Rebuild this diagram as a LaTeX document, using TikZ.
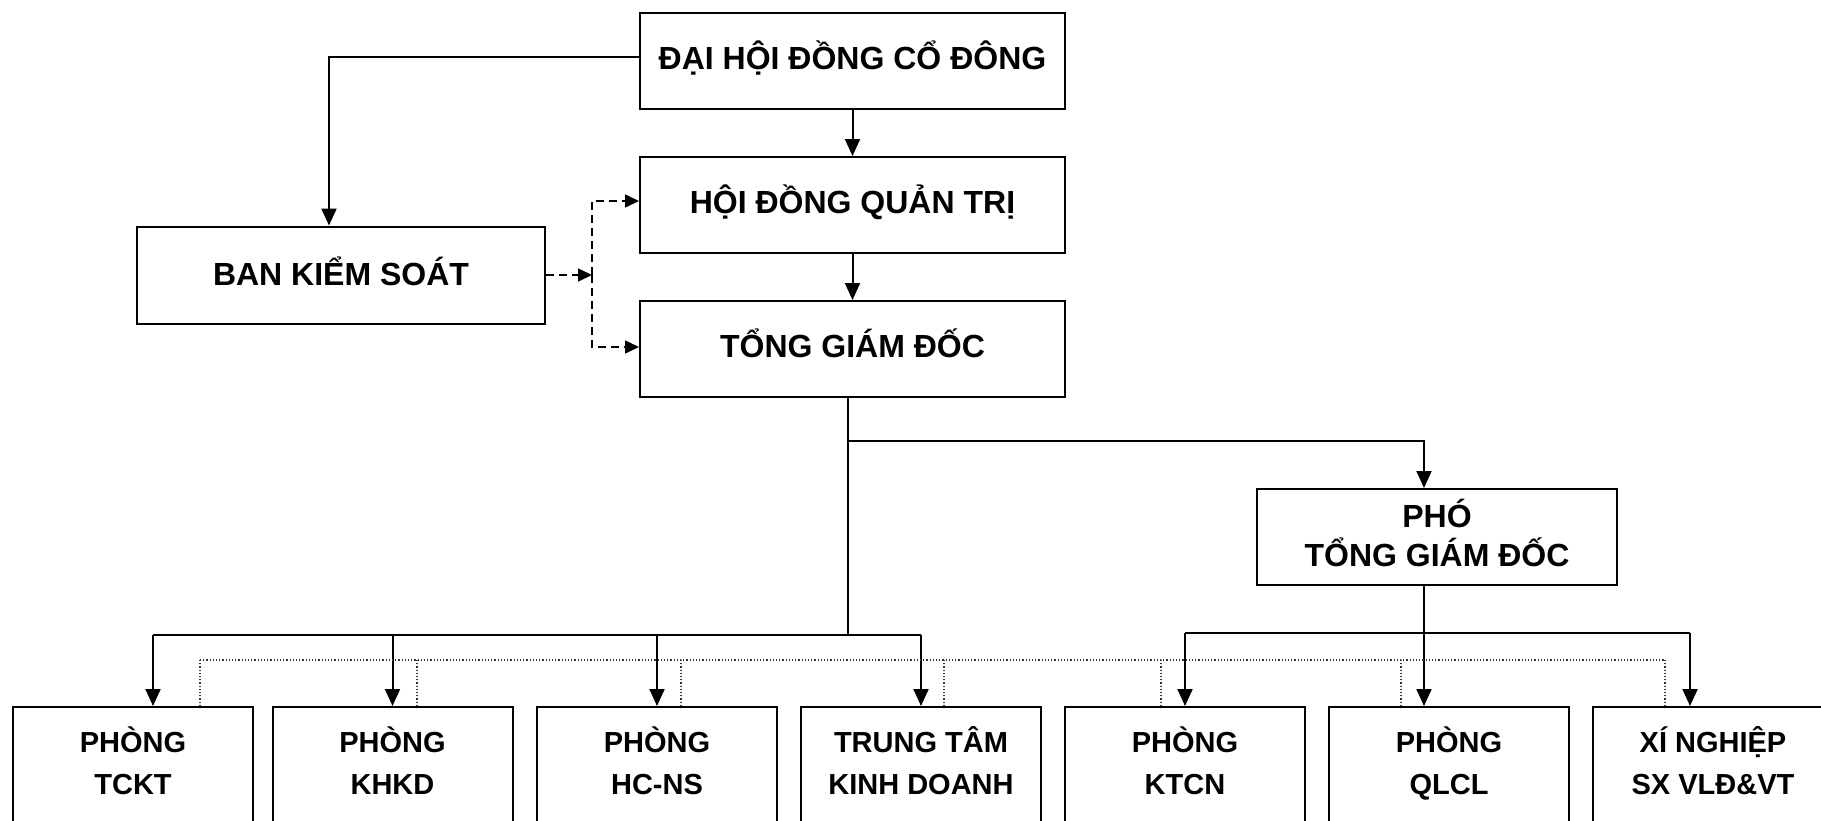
\documentclass[tikz,border=0pt]{standalone}
\usepackage{fontspec}
\setmainfont{Liberation Sans}
\usetikzlibrary{arrows.meta}
\newcommand\topstrut{\rule[-14pt]{0pt}{44pt}}
\newcommand\bksstrut{\rule[-9pt]{0pt}{39pt}}
\newcommand\ptstrutA{\rule[-5.5pt]{0pt}{38.5pt}}
\newcommand\ptstrutB{\rule[-13.7pt]{0pt}{46.7pt}}
\newcommand\unstrut{\rule[-13.5pt]{0pt}{41.5pt}}
\tikzset{
  box/.style={draw, line width=2pt, inner sep=0pt, align=center,
    font=\bfseries\fontsize{32}{38.7}\selectfont},
  topbox/.style={box, minimum width=425pt, minimum height=96pt},
  unitbox/.style={draw, line width=2pt, inner sep=0pt, align=center,
    minimum width=240pt, minimum height=118pt,
    font=\bfseries\fontsize{29}{41.6}\selectfont},
  conn/.style={line width=2pt},
  arr/.style={conn, -{Triangle[length=17pt,width=15pt]}},
  dasharr/.style={line width=1.6pt, dash pattern=on 8pt off 5pt, -{Triangle[length=14pt,width=13pt]}},
  dotln/.style={line width=1.1pt, dash pattern=on 1.2pt off 2pt, black!80}
}
\begin{document}
\begin{tikzpicture}[x=1pt,y=-1pt]
\useasboundingbox (0,0) rectangle (1821,820);
\clip (0,0) rectangle (1821,820);
\fill[white] (0,0) rectangle (1821,820);
% top boxes
\node[topbox] (dhdcd) at (852.5,61) {\topstrut ĐẠI HỘI ĐỒNG CỔ ĐÔNG};
\node[topbox] (hdqt) at (852.5,205) {\topstrut HỘI ĐỒNG QUẢN TRỊ};
\node[topbox] (tgd) at (852.5,349) {\topstrut TỔNG GIÁM ĐỐC};
\node[box, minimum width=408pt, minimum height=97pt] (bks) at (341,275) {\bksstrut BAN KIỂM SOÁT};
\node[box, minimum width=360pt, minimum height=96pt] (ptgd) at (1437,537) {\ptstrutA PHÓ\\\ptstrutB TỔNG GIÁM ĐỐC};
% bottom units
\node[unitbox] (b1) at (133,766) {\unstrut PHÒNG\\\unstrut TCKT};
\node[unitbox] (b2) at (392.5,766) {\unstrut PHÒNG\\\unstrut KHKD};
\node[unitbox] (b3) at (657,766) {\unstrut PHÒNG\\\unstrut HC-NS};
\node[unitbox] (b4) at (921,766) {\unstrut TRUNG TÂM\\\unstrut KINH DOANH};
\node[unitbox] (b5) at (1185,766) {\unstrut PHÒNG\\\unstrut KTCN};
\node[unitbox] (b6) at (1449,766) {\unstrut PHÒNG\\\unstrut QLCL};
\node[unitbox] (b7) at (1713,766) {\unstrut XÍ NGHIỆP\\\unstrut SX VLĐ\&VT};
% helper coordinates
\coordinate (barL) at (0,635);
\coordinate (barR) at (0,633);
\coordinate (midbar) at (0,441);
\coordinate (dotbar) at (0,660);
\coordinate (jn) at (592,275);
% top connectors
\draw[arr] ([yshift=4pt]dhdcd.west) -| ([xshift=-12pt]bks.north);
\draw[arr] (dhdcd.south) -- (hdqt.north);
\draw[arr] (hdqt.south) -- (tgd.north);
% supervisory dashed
\draw[dasharr] (bks.east |- jn) -- (jn);
\draw[dasharr] (jn) |- ([yshift=4pt]hdqt.west);
\draw[dasharr] (jn) |- ([yshift=2pt]tgd.west);
% general director to units
\draw[conn] ([xshift=-4.5pt,yshift=2pt]tgd.south) -- ([xshift=-4.5pt]tgd.south |- barL);
\draw[arr] ([xshift=-4.5pt]tgd.south |- midbar) -| ([xshift=-13pt]ptgd.north);
\draw[conn] ([xshift=20pt]b1.north |- barL) -- (b4.north |- barL);
\draw[arr] ([xshift=20pt]b1.north |- barL) -- ([xshift=20pt]b1.north);
\draw[arr] (b2.north |- barL) -- (b2.north);
\draw[arr] (b3.north |- barL) -- (b3.north);
\draw[arr] (b4.north |- barL) -- (b4.north);
% deputy to units
\draw[arr] ([xshift=-13pt]ptgd.south) -- ([xshift=-25pt]b6.north);
\draw[conn] (b5.north |- barR) -- ([xshift=-23pt]b7.north |- barR);
\draw[arr] (b5.north |- barR) -- (b5.north);
\draw[arr] ([xshift=-23pt]b7.north |- barR) -- ([xshift=-23pt]b7.north);
% dotted coordination lines
\draw[dotln] ([xshift=67pt]b1.north |- dotbar) -- ([xshift=-48pt]b7.north |- dotbar);
\draw[dotln] ([xshift=67pt]b1.north |- dotbar) -- ([xshift=67pt]b1.north);
\draw[dotln] ([xshift=24.5pt]b2.north |- dotbar) -- ([xshift=24.5pt]b2.north);
\draw[dotln] ([xshift=24pt]b3.north |- dotbar) -- ([xshift=24pt]b3.north);
\draw[dotln] ([xshift=23pt]b4.north |- dotbar) -- ([xshift=23pt]b4.north);
\draw[dotln] ([xshift=-24pt]b5.north |- dotbar) -- ([xshift=-24pt]b5.north);
\draw[dotln] ([xshift=-48pt]b6.north |- dotbar) -- ([xshift=-48pt]b6.north);
\draw[dotln] ([xshift=-48pt]b7.north |- dotbar) -- ([xshift=-48pt]b7.north);
\end{tikzpicture}
\end{document}
